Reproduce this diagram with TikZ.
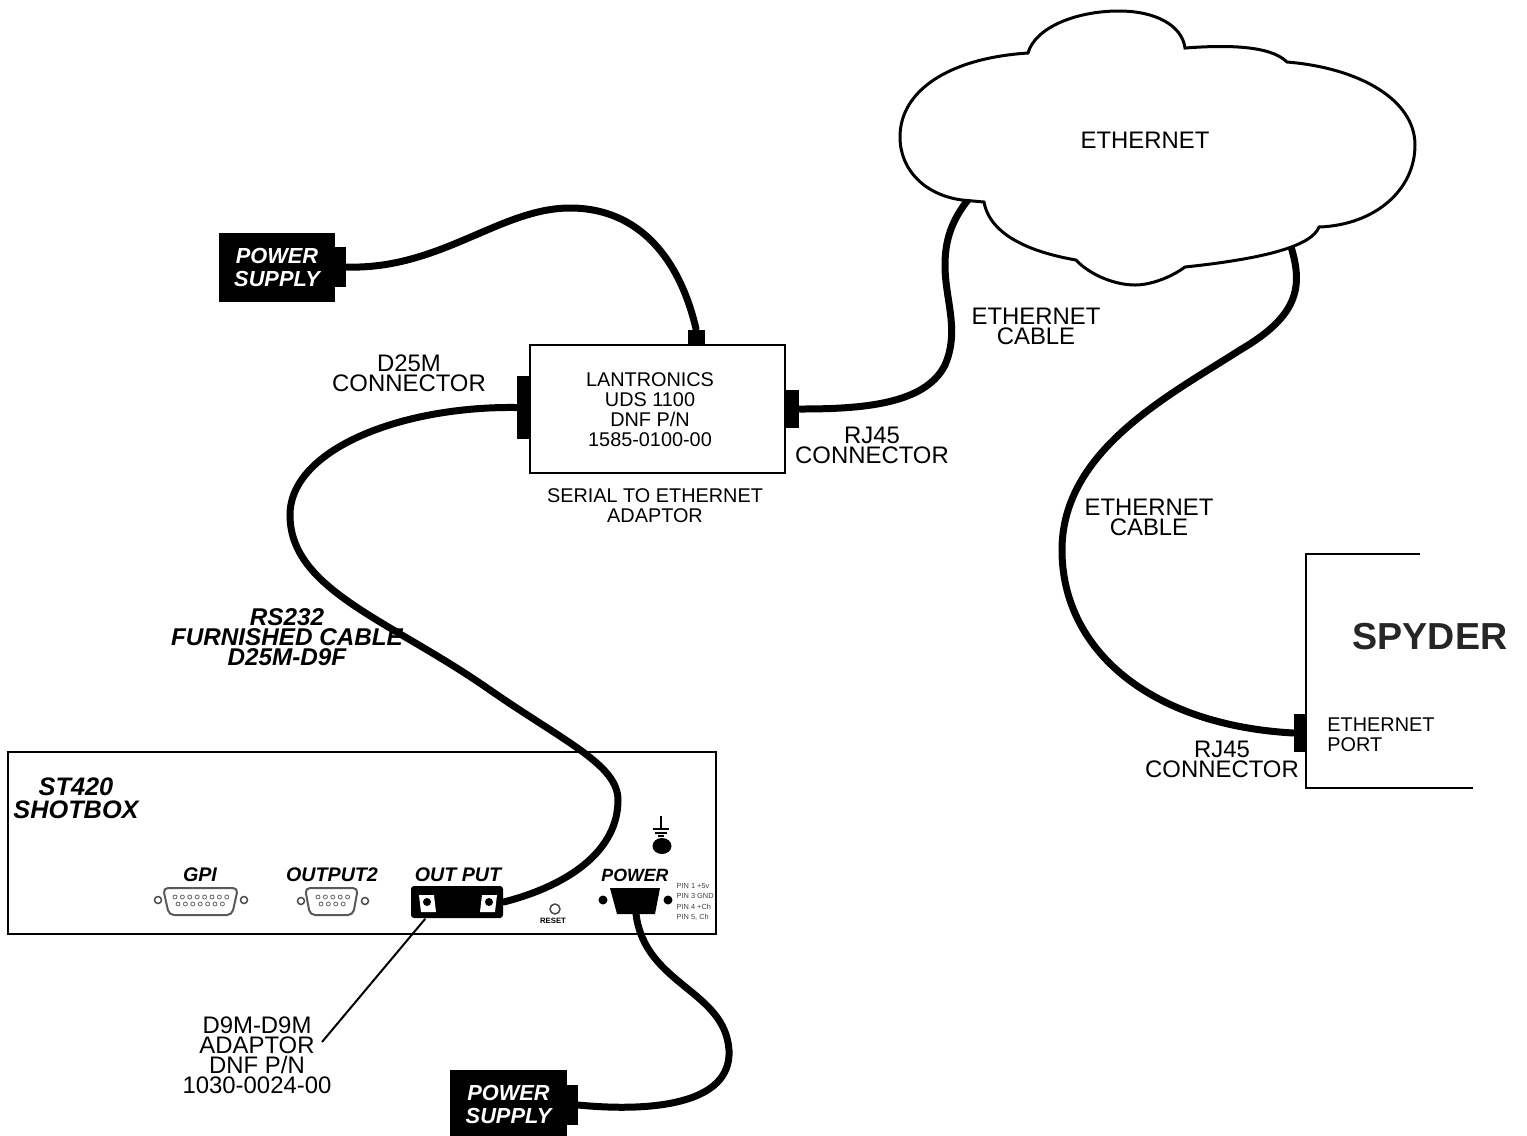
\documentclass[tikz,border=0pt]{standalone}
\usepackage{fontspec}
\setmainfont{Liberation Sans}
\usetikzlibrary{shapes.geometric}
\begin{document}
\begin{tikzpicture}[
    x=0.1mm, y=-0.1mm,
    cable/.style = {line width=0.7mm, line cap=round},
    thinline/.style = {line width=0.25mm},
    lbl/.style = {inner sep=0pt, align=center, font=\fontsize{6.8}{5.7}\selectfont},
    smalllbl/.style = {inner sep=0pt, align=center, font=\fontsize{5.65}{5.7}\selectfont},
    boldlbl/.style = {inner sep=0pt, align=center, font=\fontsize{6.9}{5.7}\selectfont\bfseries\itshape},
    panellbl/.style = {inner sep=0pt, font=\fontsize{5.6}{5.7}\selectfont\bfseries\itshape},
    plug/.style = {fill=black, inner sep=0pt},
    supply/.style = {plug, text=white, align=center, font=\fontsize{6.2}{6.5}\selectfont\bfseries\itshape},
    screw/.style = {circle, draw=black!70, line width=0.15mm, fill=white, inner sep=0pt, minimum size=0.7mm},
    shell/.style = {line width=0.2mm, draw=black!65, rounded corners=0.5mm},
    pin/.style = {circle, draw=black!60, line width=0.08mm, inner sep=0pt, minimum size=0.4mm}
    ]
    \useasboundingbox (0,0) rectangle (1527,1135);
    % shotbox panel
    \node[draw, thinline, inner sep=0pt, minimum width=70.8mm, minimum height=18.2mm] (shotbox) at (362,843) {};
    \node[boldlbl, font=\fontsize{7.2}{6.5}\selectfont\bfseries\itshape] (shotboxtxt) at (76,798) {ST420\\SHOTBOX};
    \node[panellbl] (gpitxt) at (200,875) {GPI};
    \node[panellbl] (out2txt) at (332,875) {OUTPUT2};
    \node[panellbl] (outtxt) at (458,875) {OUT PUT};
    \node[panellbl, font=\fontsize{5.05}{5.7}\selectfont\bfseries\itshape] (powertxt) at (635,875) {POWER};
    % gpi connector
    \draw[shell] (163,888) -- (238,888) -- (232,915) -- (169,915) -- cycle;
    \node[screw] (gpil) at (158,900) {};
    \node[screw] (gpir) at (244,900) {};
    \foreach \i in {0,...,7} \node[pin] at (175+\i*7.4,897) {};
    \foreach \i in {0,...,6} \node[pin] at (178+\i*7.4,904) {};
    % output2 connector
    \draw[shell] (305,888) -- (358,888) -- (353,915) -- (310,915) -- cycle;
    \node[screw] (out2l) at (301,901) {};
    \node[screw] (out2r) at (365,901) {};
    \foreach \i in {0,...,4} \node[pin] at (318+\i*7.4,897) {};
    \foreach \i in {0,...,3} \node[pin] at (321+\i*7.4,904) {};
    % adaptor
    \node[plug, rounded corners=0.3mm, minimum width=9.2mm, minimum height=3.2mm] (adaptor) at (457,902) {};
    \fill[white] (419,895) -- (434,895) -- (436,912) -- (421,912) -- cycle;
    \fill[white] (482,895) -- (497,895) -- (495,912) -- (480,912) -- cycle;
    \fill (427,902) ellipse (4 and 4);
    \fill (489,902) ellipse (4 and 4);
    % reset
    \node[screw, minimum size=1mm] (reset) at (555,909) {};
    \node[inner sep=0pt, font=\fontsize{2.2}{3}\selectfont\bfseries] (resettxt) at (553,921) {RESET};
    % power connector
    \fill (610,888) -- (660,888) -- (655,914) -- (617,914) -- cycle;
    \coordinate (powerc) at (636,914);
    \fill (603,900) circle (4.5);
    \fill (668,900) circle (4.5);
    \node[inner sep=0pt, align=left, anchor=west, text=black!75, font=\fontsize{2.1}{3}\selectfont] (pintxt) at (676,902) {PIN 1 +5v\\PIN 3 GND\\PIN 4 +Ch\\PIN 5, Ch};
    % ground
    \node[fill=black, ellipse, inner sep=0pt, minimum width=1.9mm, minimum height=1.6mm] (gnd) at (662,846) {};
    \draw[line width=0.2mm] (661,816) -- (661,829) (653,829) -- (669,829) (655,833) -- (667,833) (658,836) -- (664,836);
    % adaptor box
    \node[draw, thinline, inner sep=0pt, minimum width=25.5mm, minimum height=12.8mm] (uds) at (657.5,409) {};
    \node[smalllbl] (udstxt) at (650,410) {LANTRONICS\\UDS 1100\\DNF P/N\\1585-0100-00};
    \node[smalllbl] (serialtxt) at (655,506) {SERIAL TO ETHERNET\\ADAPTOR};
    \node[plug, minimum width=1.7mm, minimum height=1.5mm] (udstop) at (696,337) {};
    \node[plug, minimum width=1.3mm, minimum height=6.3mm] (udsl) at (523.5,407.5) {};
    \node[plug, minimum width=1.4mm, minimum height=3.8mm] (udsr) at (792,409) {};
    % power supplies
    \node[supply, minimum width=11.6mm, minimum height=6.9mm] (ps1) at (277,267.5) {POWER\\SUPPLY};
    \node[plug, minimum width=1.1mm, minimum height=4mm] (ps1tab) at (340,267) {};
    \node[supply, minimum width=11.7mm, minimum height=6.9mm] (ps2) at (508.5,1104.5) {POWER\\SUPPLY};
    \node[plug, minimum width=1.1mm, minimum height=4mm] (ps2tab) at (572,1105) {};
    % spyder
    \draw[thinline] (1420,554) -- (1306,554) -- (1306,788) -- (1473,788);
    \node[plug, minimum width=1.2mm, minimum height=3.8mm] (spyport) at (1300,733) {};
    \node[inner sep=0pt, text=black!85, font=\fontsize{10.7}{12}\selectfont\bfseries] (spydertxt) at (1430,637) {SPYDER};
    \node[smalllbl, align=left] (porttxt) at (1381,735) {ETHERNET\\PORT};
    \coordinate (cloudl) at (972,195);
    \coordinate (cloudr) at (1288,238);
    % cables
    \draw[cable] (ps1tab.east) .. controls (440,270) and (500,208) .. (570,208) .. controls (640,208) and (680,260) .. (udstop.north);
    \draw[cable] (udsr.east) .. controls (860,409) and (925,405) .. (945,365) .. controls (960,330) and (945,300) .. (945,265) .. controls (945,235) and (955,215) .. (cloudl);
    \draw[cable] (cloudr) .. controls (1305,285) and (1300,315) .. (1240,350) .. controls (1170,395) and (1062,450) .. (1062,550) .. controls (1062,650) and (1150,725) .. (spyport.west);
    \draw[cable] (udsl.west) .. controls (400,406) and (290,450) .. (290,515) .. controls (290,590) and (390,620) .. (490,690) .. controls (565,742) and (618,765) .. (618,800) .. controls (618,850) and (570,885) .. (adaptor.east);
    \draw[cable] (powerc) .. controls (645,985) and (725,990) .. (729,1050) .. controls (732,1105) and (650,1112) .. (ps2tab.east);
    % cloud
    \draw[line width=0.3mm, fill=white] (1028,53) .. controls (1035,28) and (1075,11) .. (1119,11) .. controls (1155,11) and (1182,25) .. (1185,48)
      .. controls (1225,45) and (1270,45) .. (1287,62)
      .. controls (1360,68) and (1415,100) .. (1415,145)
      .. controls (1415,190) and (1375,225) .. (1319,227)
      .. controls (1312,245) and (1270,258) .. (1185,267)
      .. controls (1170,278) and (1150,285) .. (1135,285)
      .. controls (1115,285) and (1090,275) .. (1076,260)
      .. controls (1030,252) and (990,235) .. (984,202)
      -- (962,200)
      .. controls (925,195) and (900,170) .. (900,137)
      .. controls (900,90) and (950,58) .. (1028,53) -- cycle;
    \node[lbl] (cloudtxt) at (1145,140) {ETHERNET};
    % labels
    \node[lbl] (d25txt) at (409,373) {D25M\\CONNECTOR};
    \node[lbl] (rj45atxt) at (872,445) {RJ45\\CONNECTOR};
    \node[lbl] (cableatxt) at (1036,326) {ETHERNET\\CABLE};
    \node[lbl] (cablebtxt) at (1149,517) {ETHERNET\\CABLE};
    \node[lbl] (rj45btxt) at (1222,759) {RJ45\\CONNECTOR};
    \node[boldlbl] (rstxt) at (287,637) {RS232\\FURNISHED CABLE\\D25M-D9F};
    \node[lbl] (d9txt) at (257,1055) {D9M-D9M\\ADAPTOR\\DNF P/N\\1030-0024-00};
    \draw[line width=0.2mm] (adaptor.south west) ++(15,0) -- (322,1042);
\end{tikzpicture}
\end{document}
